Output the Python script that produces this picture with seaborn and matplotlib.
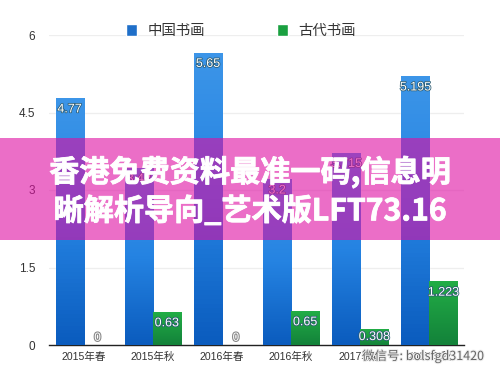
import matplotlib
matplotlib.use("Agg")
import matplotlib.pyplot as plt
import matplotlib.patheffects as pe
from matplotlib.colors import LinearSegmentedColormap
from matplotlib.patches import Rectangle
import numpy as np
import pandas as pd
import seaborn as sns

categories = ['2015年春', '2015年秋', '2016年春', '2016年秋', '2017年春', '2017年秋']
series_names = ['中国书画', '古代书画']
chinese_values = [4.77, 3.42, 5.65, 3.2, 3.715, 5.195]
ancient_values = [0, 0.63, 0, 0.65, 0.308, 1.223]
chinese_labels = ['4.77', '3.42', '5.65', '3.2', '3.715', '5.195']
ancient_labels = ['0', '0.63', '0', '0.65', '0.308', '1.223']
y_ticks = [0, 1.5, 3, 4.5, 6]
y_tick_labels = ['0', '1.5', '3', '4.5', '6']
banner_lines = ['香港免费资料最准一码,信息明', '晰解析导向_艺术版LFT73.16']
watermark = '微信号: bolsfgd31420'

sns.set_theme(style="white")
plt.rcParams['font.family'] = ['Liberation Sans', 'Noto Sans CJK SC']

df = pd.DataFrame({
    'cat': categories * 2,
    'series': [series_names[0]] * 6 + [series_names[1]] * 6,
    'value': chinese_values + ancient_values,
})

fig = plt.figure(figsize=(5, 3.79), dpi=100)
ax = fig.add_axes([49 / 500, 34 / 379, 415 / 500, 310 / 379])

sns.barplot(data=df, x='cat', y='value', hue='series', palette=['#1f6fc9', '#1aa040'],
            saturation=1, width=0.81, ax=ax, zorder=2)
ax.set_xlim(-0.5, 5.5)
ax.set_ylim(0, 6)
ax.set_xlabel('')
ax.set_ylabel('')
ax.set_yticks(y_ticks, y_tick_labels)
ax.tick_params(axis='y', length=0, pad=10, labelsize=8.5, labelcolor='#333333')
ax.tick_params(axis='x', length=0, pad=5, labelsize=7.6, labelcolor='#333333')
ax.grid(axis='y', color='#eeeeee', lw=0.9)
ax.set_axisbelow(True)
for s in ['top', 'left', 'right']:
    ax.spines[s].set_visible(False)
ax.spines['bottom'].set_color('#222222')
ax.spines['bottom'].set_linewidth(1)

# gradient on every bar, top colour first
cmaps = [LinearSegmentedColormap.from_list('b', ['#3c95e8', '#2583e2', '#0b5cbe']),
         LinearSegmentedColormap.from_list('g', ['#22ad46', '#13823a'])]
grad = np.linspace(0, 1, 64).reshape(-1, 1)
shadow = [pe.withStroke(linewidth=1.1, foreground='#2a5a70')]
zero_shadow = [pe.withStroke(linewidth=1.6, foreground='#8a8a8a')]
for cont, cmap, labels in zip(ax.containers, cmaps, [chinese_labels, ancient_labels]):
    for bar, lab in zip(cont, labels):
        x0, w, h = bar.get_x(), bar.get_width(), bar.get_height()
        xc = x0 + w / 2
        if h == 0:
            ax.text(xc, 0.14, lab, ha='center', va='center', fontsize=8.5, color='white',
                    path_effects=zero_shadow, zorder=4)
            continue
        ax.imshow(grad, cmap=cmap, aspect='auto', extent=[x0, x0 + w, 0, h], zorder=3)
        ax.text(xc, h - min(0.21, h / 2), lab, ha='center', va='center', fontsize=9, color='white',
                path_effects=shadow, zorder=4, clip_on=False)
ax.set_xlim(-0.5, 5.5)
ax.set_ylim(0, 6)

handles, names = ax.get_legend_handles_labels()
ax.legend(handles, names, ncol=2, frameon=False, loc='center',
          bbox_to_anchor=(241 / 500, 1 - 31 / 379), bbox_transform=fig.transFigure,
          fontsize=10.4, labelcolor='#333333', handlelength=0.75, handleheight=0.8,
          handletextpad=0.7, columnspacing=5.0)

# pink banner over the chart
fig.add_artist(Rectangle((0, 1 - 240 / 379), 1, 102 / 379, transform=fig.transFigure,
                         facecolor='#df0da3', alpha=0.6, edgecolor='none', zorder=5))
for line, ypx in zip(banner_lines, [172, 211]):
    fig.text(0.5, 1 - ypx / 379, line, ha='center', va='center', color='white',
             fontsize=21.7, fontweight='bold', family=['Noto Sans CJK SC', 'DejaVu Sans'],
             path_effects=[pe.withStroke(linewidth=0.6, foreground='white')], zorder=6)

# watermark across the last tick labels
fig.text(484 / 500, 1 - 356 / 379, watermark, ha='right', va='center', fontsize=9,
         color='#666666', family=['Noto Sans CJK SC', 'DejaVu Sans'],
         path_effects=[pe.withStroke(linewidth=1.5, foreground='#eeeeee')], zorder=6)

fig.savefig('out.png', dpi=100)
